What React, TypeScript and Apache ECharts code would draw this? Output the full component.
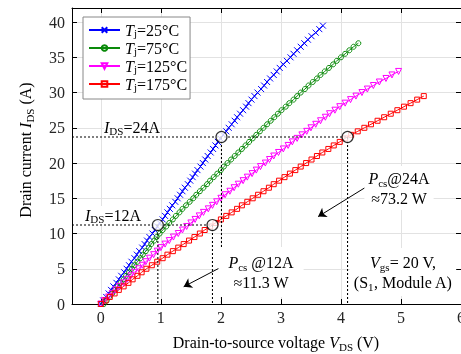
import { useEffect, useRef } from 'react';
import * as echarts from 'echarts';

// Shared drain-current sample levels (A)
const CURRENT_STEPS_A = [
  0, 0.5, 1, 1.5, 2, 2.5, 3, 3.5, 4, 4.5,
  5, 5.5, 6, 6.5, 7, 7.5, 8, 8.5, 9, 9.5,
  10, 10.5, 11, 11.5, 12, 12.5, 13, 13.5, 14, 14.5,
  15, 15.5, 16, 16.5, 17, 17.5, 18, 18.5, 19, 19.5,
  20, 20.5, 21, 21.5, 22, 22.5, 23, 23.5, 24, 24.5,
  25, 25.5, 26, 26.5, 27, 27.5, 28, 28.5, 29, 29.5,
  30, 30.5, 31, 31.5, 32, 32.5, 33, 33.5, 34, 34.5,
  35, 35.5, 36, 36.5, 37, 37.5, 38, 38.5, 39, 39.5,
];

// Drain-to-source voltage (V) read at each current level
const VDS_25C = [
  0, 0.04, 0.09, 0.13, 0.17, 0.21, 0.26, 0.30, 0.34, 0.39,
  0.43, 0.47, 0.51, 0.56, 0.60, 0.64, 0.69, 0.73, 0.77, 0.81,
  0.86, 0.90, 0.94, 0.98, 1.03, 1.07, 1.11, 1.15, 1.19, 1.24,
  1.28, 1.32, 1.36, 1.40, 1.45, 1.49, 1.53, 1.57, 1.61, 1.66,
  1.70, 1.74, 1.78, 1.83, 1.87, 1.91, 1.95, 1.99, 2.04, 2.09,
  2.13, 2.18, 2.23, 2.27, 2.32, 2.37, 2.42, 2.46, 2.51, 2.56,
  2.61, 2.67, 2.72, 2.77, 2.82, 2.88, 2.93, 2.98, 3.04, 3.10,
  3.16, 3.21, 3.27, 3.33, 3.39, 3.45, 3.51, 3.58, 3.64, 3.70,
];
const VDS_75C = [
  0.05, 0.10, 0.14, 0.19, 0.24, 0.28, 0.33, 0.38, 0.42, 0.47,
  0.52, 0.56, 0.61, 0.66, 0.70, 0.75, 0.80, 0.84, 0.89, 0.93,
  0.98, 1.03, 1.09, 1.14, 1.20, 1.25, 1.31, 1.36, 1.42, 1.48,
  1.54, 1.59, 1.65, 1.71, 1.77, 1.82, 1.88, 1.94, 2.00, 2.05,
  2.11, 2.17, 2.23, 2.29, 2.35, 2.41, 2.47, 2.53, 2.59, 2.65,
  2.71, 2.77, 2.83, 2.89, 2.95, 3.01, 3.08, 3.14, 3.21, 3.27,
  3.33, 3.40, 3.46, 3.53, 3.60, 3.66, 3.73, 3.80, 3.87, 3.93,
  4.00, 4.07, 4.14, 4.21, 4.29,
];
const VDS_125C = [
  0, 0.06, 0.13, 0.19, 0.25, 0.31, 0.38, 0.44, 0.50, 0.56,
  0.63, 0.69, 0.75, 0.81, 0.88, 0.94, 1.00, 1.07, 1.14, 1.21,
  1.29, 1.36, 1.43, 1.50, 1.57, 1.64, 1.71, 1.79, 1.86, 1.93,
  2.00, 2.07, 2.15, 2.22, 2.29, 2.37, 2.44, 2.52, 2.59, 2.66,
  2.74, 2.81, 2.88, 2.96, 3.04, 3.12, 3.19, 3.27, 3.35, 3.43,
  3.50, 3.58, 3.66, 3.74, 3.81, 3.90, 3.98, 4.07, 4.16, 4.25,
  4.35, 4.44, 4.54, 4.64, 4.75, 4.85, 4.96,
];
const VDS_175C = [
  0, 0.08, 0.15, 0.23, 0.30, 0.38, 0.46, 0.53, 0.61, 0.68,
  0.76, 0.85, 0.94, 1.03, 1.11, 1.20, 1.29, 1.38, 1.47, 1.56,
  1.65, 1.73, 1.82, 1.91, 2.00, 2.09, 2.18, 2.27, 2.35, 2.44,
  2.53, 2.62, 2.71, 2.80, 2.88, 2.97, 3.06, 3.15, 3.24, 3.33,
  3.42, 3.51, 3.60, 3.69, 3.79, 3.88, 3.98, 4.07, 4.17, 4.28,
  4.39, 4.50, 4.61, 4.72, 4.83, 4.94, 5.05, 5.16, 5.27, 5.38,
];

const SERIES_NAMES = ['Tj=25°C', 'Tj=75°C', 'Tj=125°C', 'Tj=175°C'];

// Operating points: current levels (A) and the voltages at 25 °C and 175 °C
const OP_CURRENT_A = [23.7, 11.2];
const OP_VDS_25C = [2.01, 0.95];
const OP_VDS_175C = [4.11, 1.86];

// Annotation arrows [start, end] in data coordinates
const ARROWS = [
  [[4.4, 16.5], [3.62, 12.4]],
  [[2.02, 5.3], [1.38, 2.45]],
];

const X_MIN = -0.48;
const X_MAX = 6;
const Y_MAX = 42;

const F = '"Liberation Serif", "Times New Roman", serif';

const rich = (lh: number) => ({
  n: { fontFamily: F, fontSize: 16, lineHeight: lh, color: '#000', verticalAlign: 'middle' },
  i: { fontFamily: F, fontSize: 16, lineHeight: lh, color: '#000', fontStyle: 'italic', verticalAlign: 'middle' },
  s: { fontFamily: F, fontSize: 11, lineHeight: 11, color: '#000', verticalAlign: 'bottom' },
});

export default function App() {
  const ref = useRef<HTMLDivElement>(null);

  useEffect(() => {
    const chart = echarts.init(ref.current!, null, { renderer: 'svg' });

    const curve = (name: string, vds: number[], color: string, symbol: string, size: number, rotate = 0) => ({
      name,
      type: 'line',
      data: vds.map((v, i) => [v, CURRENT_STEPS_A[i]]),
      symbol,
      symbolSize: size,
      symbolRotate: rotate,
      showSymbol: true,
      lineStyle: { color, width: 1 },
      itemStyle: { color: 'rgba(0,0,0,0)', borderColor: color, borderWidth: 1 },
      emphasis: { disabled: true },
      z: 3,
    });

    const dotted = (pts: number[][]) => ({
      type: 'line',
      data: pts,
      symbol: 'none',
      silent: true,
      lineStyle: { color: '#000', width: 1.1, type: [2, 2] },
      emphasis: { disabled: true },
      z: 4,
    });

    const dottedSeries: any[] = [];
    OP_CURRENT_A.forEach((cur, k) => {
      dottedSeries.push(dotted([[X_MIN, cur], [OP_VDS_175C[k], cur]]));
      dottedSeries.push(dotted([[OP_VDS_25C[k], cur], [OP_VDS_25C[k], 0]]));
      dottedSeries.push(dotted([[OP_VDS_175C[k], cur], [OP_VDS_175C[k], 0]]));
    });

    const circles: number[][] = [];
    OP_CURRENT_A.forEach((cur, k) => {
      circles.push([OP_VDS_25C[k], cur]);
      circles.push([OP_VDS_175C[k], cur]);
    });

    const axisLabel = { fontFamily: F, fontSize: 16, color: '#262626' };

    chart.setOption({
      animation: false,
      grid: { left: 72, right: 0, top: 8, bottom: 50, containLabel: false, outerBoundsMode: 'none' },
      legend: {
        data: SERIES_NAMES,
        orient: 'vertical',
        left: 83,
        top: 17,
        padding: [5, 3, 7, 5],
        itemGap: 2,
        itemWidth: 31,
        itemHeight: 7,
        backgroundColor: '#fff',
        borderColor: '#888',
        borderWidth: 1,
        borderRadius: 0,
        selectedMode: false,
        formatter: (name: string) => `{i|T}{s|j}{n|=${name.split('=')[1]}}`,
        textStyle: { fontFamily: F, fontSize: 16, color: '#000', rich: rich(16) },
      },
      xAxis: [
        {
          type: 'value',
          min: X_MIN,
          max: X_MAX,
          splitNumber: 6,
          name: '{n|Drain-to-source voltage }{i|V}{s|DS}{n| (V)}',
          nameLocation: 'middle',
          nameGap: 28,
          nameTextStyle: { rich: rich(20), padding: [0, 0, 0, 19] },
          axisLine: { show: true, onZero: false, lineStyle: { color: '#000', width: 1 } },
          axisTick: { show: true, inside: true, length: 5, lineStyle: { color: '#000' } },
          axisLabel: { ...axisLabel, margin: 5, showMinLabel: false },
          splitLine: { show: true, lineStyle: { color: '#e2e2e2', width: 1 } },
        },
        {
          type: 'value',
          position: 'top',
          min: X_MIN,
          max: X_MAX,
          splitNumber: 6,
          axisLine: { show: true, onZero: false, lineStyle: { color: '#000', width: 1 } },
          axisTick: { show: true, inside: true, length: 5, lineStyle: { color: '#000' } },
          axisLabel: { show: false },
          splitLine: { show: false },
        },
      ],
      yAxis: [
        {
          type: 'value',
          min: 0,
          max: Y_MAX,
          interval: 5,
          name: '{n|Drain current }{i|I}{s|DS}{n| (A)}',
          nameLocation: 'middle',
          nameGap: 37,
          nameTextStyle: { rich: rich(20), padding: [0, 0, 0, 12] },
          axisLine: { show: true, onZero: false, lineStyle: { color: '#000', width: 1 } },
          axisTick: { show: true, inside: true, length: 5, lineStyle: { color: '#000' } },
          axisLabel: { ...axisLabel, margin: 7, showMaxLabel: false },
          splitLine: { show: true, lineStyle: { color: '#e2e2e2', width: 1 } },
        },
        {
          type: 'value',
          position: 'right',
          min: 0,
          max: Y_MAX,
          interval: 5,
          axisLine: { show: true, onZero: false, lineStyle: { color: '#000', width: 1 } },
          axisTick: { show: true, inside: true, length: 5, lineStyle: { color: '#000' } },
          axisLabel: { show: false },
          splitLine: { show: false },
        },
      ],
      series: [
        curve(SERIES_NAMES[0], VDS_25C, '#0000ff', 'path://M0,0L10,10M10,0L0,10', 6),
        curve(SERIES_NAMES[1], VDS_75C, '#0a8a0a', 'circle', 5),
        curve(SERIES_NAMES[2], VDS_125C, '#ff00ff', 'triangle', 6, 180),
        curve(SERIES_NAMES[3], VDS_175C, '#ff0000', 'rect', 5),
        ...dottedSeries,
        {
          type: 'line',
          data: [],
          silent: true,
          markLine: {
            silent: true,
            symbol: ['none', 'arrow'],
            symbolSize: 8,
            label: { show: false },
            lineStyle: { color: '#000', width: 1, type: 'solid' },
            emphasis: { disabled: true },
            data: ARROWS.map(([a, b]) => [{ coord: a }, { coord: b }]),
          },
        },
        {
          type: 'scatter',
          data: circles,
          symbol: 'circle',
          symbolSize: 11,
          silent: true,
          itemStyle: { color: '#fff', borderColor: '#000', borderWidth: 1.2 },
          z: 6,
        },
      ],
      graphic: [
        {
          type: 'text', x: 104, y: 127, z: 50,
          style: { text: '{i|I}{s|DS}{n|=24A}', rich: rich(18), align: 'left', verticalAlign: 'middle', backgroundColor: '#fff' },
        },
        {
          type: 'text', x: 85, y: 215, z: 50,
          style: { text: '{i|I}{s|DS}{n|=12A}', rich: rich(18), align: 'left', verticalAlign: 'middle', backgroundColor: '#fff' },
        },
        {
          type: 'text', x: 399, y: 188, z: 50,
          style: { text: '{i|P}{s|cs}{n|@24A}\n{n|≈73.2 W}', rich: rich(20), align: 'center', verticalAlign: 'middle', backgroundColor: '#fff', padding: [2, 4] },
        },
        {
          type: 'text', x: 261, y: 272, z: 50,
          style: { text: '{i|P}{s|cs}{n| @12A}\n{n|≈11.3 W}', rich: rich(20), align: 'center', verticalAlign: 'middle', backgroundColor: '#fff', padding: [5, 10] },
        },
        {
          type: 'text', x: 403, y: 272, z: 50,
          style: { text: '{i|V}{s|gs}{n|= 20 V,}\n{n|(S}{s|1}{n|, Module A)}', rich: rich(20), align: 'center', verticalAlign: 'middle', backgroundColor: '#fff', padding: [4, 4] },
        },
      ],
    });

    return () => chart.dispose();
  }, []);

  return <div ref={ref} style={{ position: 'fixed', left: 0, top: 0, width: 461, height: 354 }} />;
}
